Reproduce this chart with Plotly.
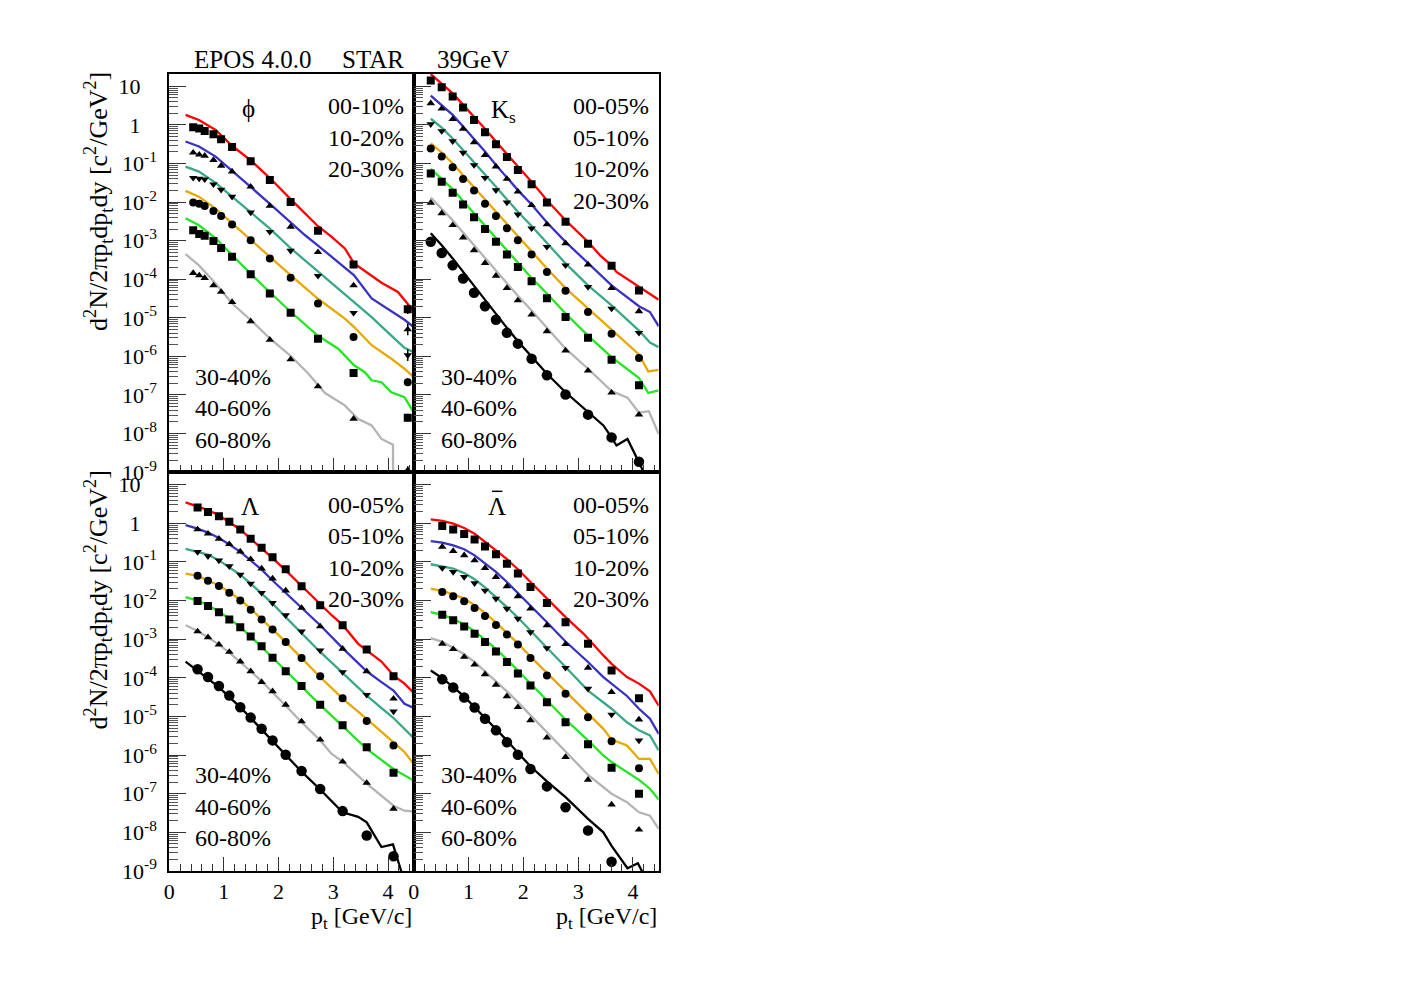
import numpy as np
import plotly.graph_objects as go

# page is 1404x992; the html body has an 8px margin, so the figure itself is 1388x976
PAGE_W, PAGE_H = 1404, 992
BODY = 8
W, H = PAGE_W - 2 * BODY, PAGE_H - 2 * BODY
# measured placement of the figure inside the photographed page
OFF_X, OFF_Y, SCALE_Y = 12.5, 8.75, 0.9855
FONT = "Liberation Serif"

# ------------------------------------------------------------------
# Data: log10 of d2N/(2 pi pt dpt dy), pt in GeV/c
# ------------------------------------------------------------------
CENT_PHI = ["00-10%", "10-20%", "20-30%", "30-40%", "40-60%", "60-80%"]
CENT = ["00-05%", "05-10%", "10-20%", "20-30%", "30-40%", "40-60%", "60-80%"]

# ---------- phi : STAR data ----------
phi_data_pt = [0.44, 0.55, 0.65, 0.81, 0.95, 1.15, 1.49, 1.84, 2.22, 2.72, 3.37, 4.36]
phi_data_00_10 = [-0.06, -0.09, -0.16, -0.24, -0.37, -0.57, -0.94, -1.43, -2.00, -2.74, -3.62, -4.78]
phi_data_10_20 = [-0.72, -0.77, -0.80, -0.91, -1.06, -1.21, -1.60, -2.10, -2.64, -3.30, -4.16, -5.30]
phi_data_20_30 = [-1.37, -1.39, -1.41, -1.54, -1.68, -1.86, -2.27, -2.77, -3.26, -3.91, -4.87, -5.97]
phi_data_30_40 = [-2.01, -2.04, -2.10, -2.23, -2.36, -2.58, -2.99, -3.46, -3.96, -4.63, -5.50, -6.67]
phi_data_40_60 = [-2.73, -2.83, -2.87, -3.01, -3.19, -3.42, -3.87, -4.37, -4.87, -5.54, -6.43, -7.59]
phi_data_60_80 = [-3.84, -3.90, -3.97, -4.16, -4.33, -4.59, -5.09, -5.57, -6.08, -6.78, -7.62, -8.95]
phi_data_err_last = [0.12, 0.15, 0.15, 0.10, 0.10, 0.10]   # log10 half-length of last-point error bar

# ---------- phi : EPOS ----------
phi_model_00_10_pt = [0.30, 0.545, 0.85, 1.15, 1.485, 1.836, 2.224, 2.485, 2.715, 2.97, 3.21, 3.38, 3.576, 3.88, 4.18, 4.333, 4.47]
phi_model_00_10 = [0.26, 0.13, -0.13, -0.54, -0.91, -1.37, -1.93, -2.29, -2.62, -2.90, -3.20, -3.59, -3.78, -4.09, -4.33, -4.59, -4.83]
phi_model_10_20_pt = [0.30, 0.545, 0.85, 1.15, 1.485, 1.836, 2.224, 2.485, 2.715, 2.97, 3.21, 3.38, 3.70, 4.06, 4.30, 4.47]
phi_model_10_20 = [-0.43, -0.56, -0.82, -1.20, -1.60, -2.04, -2.54, -2.86, -3.12, -3.42, -3.68, -3.90, -4.50, -4.83, -5.05, -5.24]
phi_model_20_30_pt = [0.30, 0.545, 0.85, 1.15, 1.485, 1.836, 2.224, 2.715, 2.97, 3.21, 3.38, 3.576, 3.70, 4.06, 4.30, 4.47]
phi_model_20_30 = [-1.08, -1.21, -1.50, -1.86, -2.25, -2.68, -3.20, -3.79, -4.11, -4.40, -4.61, -4.85, -4.98, -5.46, -5.78, -5.89]
phi_model_30_40_pt = [0.30, 0.545, 0.85, 1.15, 1.485, 1.836, 2.224, 2.715, 3.21, 3.38, 3.70, 4.06, 4.30, 4.47]
phi_model_30_40 = [-1.71, -1.86, -2.17, -2.55, -2.99, -3.42, -3.90, -4.50, -5.02, -5.24, -5.71, -6.06, -6.32, -6.54]
phi_model_40_60_pt = [0.30, 0.545, 0.85, 1.15, 1.485, 1.836, 2.224, 2.715, 3.09, 3.38, 3.576, 3.70, 3.88, 4.06, 4.30, 4.47]
phi_model_40_60 = [-2.42, -2.60, -2.94, -3.38, -3.85, -4.33, -4.85, -5.46, -5.80, -6.23, -6.41, -6.62, -6.67, -6.93, -7.06, -7.45]
phi_model_60_80_pt = [0.30, 0.545, 0.85, 1.15, 1.485, 1.836, 2.224, 2.545, 2.848, 3.21, 3.45, 3.70, 3.88, 4.06, 4.09, 4.10]
phi_model_60_80 = [-3.35, -3.64, -4.11, -4.63, -5.05, -5.53, -5.99, -6.45, -6.95, -7.27, -7.62, -7.79, -8.14, -8.27, -8.29, -12.0]

# ---------- K0s : STAR data ----------
ks_data_pt = [0.31, 0.51, 0.71, 0.90, 1.10, 1.30, 1.50, 1.70, 1.90, 2.15, 2.43, 2.77, 3.18, 3.61, 4.11]
ks_data_00_05 = [1.15, 0.98, 0.74, 0.45, 0.13, -0.19, -0.50, -0.83, -1.17, -1.54, -2.01, -2.51, -3.08, -3.65, -4.29]
ks_data_05_10 = [0.56, 0.42, 0.15, -0.10, -0.45, -0.78, -1.08, -1.40, -1.73, -2.08, -2.58, -3.07, -3.62, -4.23, -4.83]
ks_data_10_20 = [0.02, -0.16, -0.42, -0.72, -1.04, -1.37, -1.69, -2.01, -2.32, -2.68, -3.16, -3.64, -4.20, -4.76, -5.39]
ks_data_20_30 = [-0.61, -0.82, -1.10, -1.40, -1.70, -2.04, -2.36, -2.68, -2.99, -3.36, -3.81, -4.30, -4.85, -5.41, -6.04]
ks_data_30_40 = [-1.26, -1.47, -1.76, -2.06, -2.39, -2.70, -3.03, -3.36, -3.68, -4.05, -4.49, -4.98, -5.52, -6.09, -6.75]
ks_data_40_60 = [-2.02, -2.29, -2.60, -2.92, -3.25, -3.58, -3.91, -4.23, -4.55, -4.92, -5.35, -5.85, -6.37, -6.94, -7.51]
ks_data_60_80 = [-3.03, -3.32, -3.64, -3.98, -4.35, -4.70, -5.05, -5.39, -5.67, -6.06, -6.49, -6.99, -7.51, -8.10, -8.73]

# ---------- K0s : EPOS ----------
ks_model_00_05_pt = [0.31, 0.51, 0.71, 0.90, 1.10, 1.30, 1.50, 1.70, 1.90, 2.15, 2.43, 2.77, 3.18, 3.40, 3.61, 3.70, 4.11, 4.31, 4.47]
ks_model_00_05 = [1.32, 1.08, 0.82, 0.52, 0.22, -0.10, -0.43, -0.76, -1.08, -1.47, -1.95, -2.47, -3.03, -3.38, -3.64, -3.81, -4.20, -4.40, -4.53]
ks_model_05_10_pt = [0.31, 0.51, 0.71, 0.90, 1.10, 1.30, 1.50, 1.70, 1.90, 2.15, 2.43, 2.77, 3.18, 3.61, 4.11, 4.31, 4.47]
ks_model_05_10 = [0.76, 0.52, 0.26, -0.04, -0.36, -0.69, -1.04, -1.37, -1.69, -2.06, -2.53, -3.03, -3.59, -4.16, -4.70, -4.85, -5.22]
ks_model_10_20_pt = [0.31, 0.51, 0.71, 0.90, 1.10, 1.30, 1.50, 1.70, 1.90, 2.15, 2.43, 2.77, 3.18, 3.61, 4.11, 4.31, 4.47]
ks_model_10_20 = [0.16, -0.07, -0.35, -0.65, -0.95, -1.28, -1.60, -1.93, -2.25, -2.62, -3.07, -3.59, -4.16, -4.68, -5.33, -5.64, -5.76]
ks_model_20_30_pt = [0.31, 0.51, 0.71, 0.90, 1.10, 1.30, 1.50, 1.70, 1.90, 2.15, 2.43, 2.77, 3.18, 3.61, 4.11, 4.28, 4.47]
ks_model_20_30 = [-0.48, -0.72, -1.00, -1.30, -1.61, -1.93, -2.25, -2.58, -2.90, -3.27, -3.72, -4.23, -4.76, -5.33, -5.95, -6.39, -6.35]
ks_model_30_40_pt = [0.31, 0.51, 0.71, 0.90, 1.10, 1.30, 1.50, 1.70, 1.90, 2.15, 2.43, 2.77, 3.18, 3.61, 4.11, 4.28, 4.47]
ks_model_30_40 = [-1.14, -1.39, -1.66, -1.97, -2.29, -2.62, -2.94, -3.27, -3.59, -3.97, -4.37, -4.89, -5.46, -6.02, -6.56, -6.95, -6.88]
ks_model_40_60_pt = [0.31, 0.51, 0.71, 0.90, 1.10, 1.30, 1.50, 1.70, 1.90, 2.15, 2.43, 2.77, 3.18, 3.61, 3.90, 4.11, 4.29, 4.47]
ks_model_40_60 = [-1.88, -2.17, -2.47, -2.79, -3.12, -3.45, -3.79, -4.11, -4.43, -4.81, -5.26, -5.80, -6.32, -6.90, -7.07, -7.46, -7.42, -8.01]
ks_model_60_80_pt = [0.31, 0.51, 0.71, 0.90, 1.10, 1.30, 1.50, 1.70, 1.90, 2.15, 2.43, 2.77, 3.18, 3.46, 3.61, 3.70, 3.90, 4.20, 4.30]
ks_model_60_80 = [-2.81, -3.12, -3.46, -3.81, -4.18, -4.55, -4.92, -5.26, -5.61, -6.02, -6.45, -6.93, -7.45, -7.79, -8.10, -8.31, -8.14, -9.01, -9.30]

# ---------- Lambda : STAR data ----------
lam_data_pt = [0.52, 0.71, 0.91, 1.10, 1.30, 1.49, 1.69, 1.89, 2.13, 2.42, 2.76, 3.17, 3.61, 4.10]
lam_data_00_05 = [0.41, 0.29, 0.18, 0.04, -0.16, -0.40, -0.63, -0.88, -1.19, -1.63, -2.12, -2.64, -3.27, -3.96]
lam_data_05_10 = [-0.16, -0.27, -0.40, -0.54, -0.73, -0.93, -1.17, -1.43, -1.74, -2.19, -2.67, -3.25, -3.83, -4.54]
lam_data_10_20 = [-0.74, -0.85, -0.96, -1.11, -1.33, -1.56, -1.80, -2.06, -2.38, -2.80, -3.29, -3.85, -4.44, -4.87]
lam_data_20_30 = [-1.36, -1.49, -1.62, -1.80, -2.00, -2.24, -2.49, -2.75, -3.07, -3.49, -3.96, -4.53, -5.12, -5.75]
lam_data_30_40 = [-2.01, -2.14, -2.30, -2.49, -2.69, -2.93, -3.18, -3.48, -3.83, -4.21, -4.70, -5.23, -5.80, -6.46]
lam_data_40_60 = [-2.80, -2.95, -3.14, -3.33, -3.58, -3.83, -4.11, -4.35, -4.70, -5.13, -5.60, -6.17, -6.72, -7.39]
lam_data_60_80 = [-3.78, -3.98, -4.21, -4.46, -4.76, -5.03, -5.32, -5.62, -5.99, -6.41, -6.88, -7.45, -8.08, -8.62]

# ---------- Lambda : EPOS ----------
lam_model_00_05_pt = [0.30, 0.52, 0.71, 0.91, 1.10, 1.30, 1.49, 1.69, 1.89, 2.13, 2.42, 2.76, 2.97, 3.17, 3.455, 3.61, 3.88, 4.10, 4.30, 4.47]
lam_model_00_05 = [0.54, 0.44, 0.34, 0.21, 0.04, -0.16, -0.40, -0.64, -0.90, -1.22, -1.62, -2.11, -2.38, -2.63, -3.12, -3.29, -3.58, -3.94, -4.15, -4.39]
lam_model_05_10_pt = [0.30, 0.52, 0.71, 0.91, 1.10, 1.30, 1.49, 1.69, 1.89, 2.13, 2.42, 2.76, 3.17, 3.61, 3.88, 4.10, 4.30, 4.47]
lam_model_05_10 = [-0.05, -0.14, -0.24, -0.38, -0.55, -0.74, -0.96, -1.20, -1.48, -1.80, -2.19, -2.64, -3.23, -3.83, -4.11, -4.33, -4.67, -4.78]
lam_model_10_20_pt = [0.30, 0.52, 0.71, 0.91, 1.10, 1.30, 1.49, 1.69, 1.89, 2.13, 2.42, 2.76, 3.17, 3.61, 4.10, 4.47]
lam_model_10_20 = [-0.66, -0.73, -0.81, -0.96, -1.13, -1.33, -1.56, -1.82, -2.08, -2.43, -2.84, -3.33, -3.87, -4.46, -5.04, -5.56]
lam_model_20_30_pt = [0.30, 0.52, 0.71, 0.91, 1.10, 1.30, 1.49, 1.69, 1.89, 2.13, 2.42, 2.76, 3.17, 3.61, 4.10, 4.30, 4.47]
lam_model_20_30 = [-1.30, -1.36, -1.48, -1.61, -1.78, -1.98, -2.21, -2.47, -2.75, -3.07, -3.49, -3.98, -4.54, -5.06, -5.67, -5.92, -6.23]
lam_model_30_40_pt = [0.30, 0.52, 0.71, 0.91, 1.10, 1.30, 1.49, 1.69, 1.89, 2.13, 2.42, 2.76, 3.17, 3.61, 4.10, 4.47]
lam_model_30_40 = [-1.91, -2.00, -2.12, -2.28, -2.47, -2.69, -2.93, -3.20, -3.48, -3.81, -4.22, -4.70, -5.25, -5.84, -6.36, -6.66]
lam_model_40_60_pt = [0.30, 0.52, 0.71, 0.91, 1.10, 1.30, 1.49, 1.69, 1.89, 2.13, 2.42, 2.76, 2.97, 3.17, 3.61, 4.10, 4.30, 4.47]
lam_model_40_60 = [-2.64, -2.79, -2.95, -3.14, -3.35, -3.59, -3.83, -4.09, -4.37, -4.72, -5.15, -5.62, -5.97, -6.17, -6.74, -7.31, -7.44, -7.46]
lam_model_60_80_pt = [0.30, 0.52, 0.71, 0.91, 1.10, 1.30, 1.49, 1.69, 1.89, 2.13, 2.42, 2.76, 3.17, 3.455, 3.61, 3.88, 4.09, 4.24, 4.30]
lam_model_60_80 = [-3.58, -3.81, -4.02, -4.24, -4.50, -4.76, -5.04, -5.34, -5.65, -5.99, -6.43, -6.89, -7.48, -7.60, -7.74, -8.38, -8.31, -9.00, -9.30]

# ---------- anti-Lambda : STAR data ----------
alam_data_pt = [0.52, 0.72, 0.92, 1.11, 1.30, 1.50, 1.70, 1.90, 2.13, 2.43, 2.77, 3.18, 3.61, 4.11]
alam_data_00_05 = [-0.07, -0.16, -0.28, -0.42, -0.60, -0.80, -1.05, -1.30, -1.65, -2.06, -2.56, -3.12, -3.81, -4.53]
alam_data_05_10 = [-0.61, -0.72, -0.83, -0.96, -1.16, -1.39, -1.63, -1.89, -2.21, -2.64, -3.13, -3.74, -4.37, -5.08]
alam_data_10_20 = [-1.16, -1.26, -1.39, -1.55, -1.74, -1.95, -2.21, -2.47, -2.82, -3.23, -3.74, -4.28, -4.95, -5.62]
alam_data_20_30 = [-1.78, -1.89, -2.02, -2.19, -2.40, -2.63, -2.88, -3.14, -3.49, -3.94, -4.41, -5.02, -5.64, -6.34]
alam_data_30_40 = [-2.37, -2.51, -2.67, -2.86, -3.07, -3.32, -3.59, -3.89, -4.20, -4.63, -5.15, -5.72, -6.33, -7.00]
alam_data_40_60 = [-3.12, -3.26, -3.46, -3.66, -3.91, -4.18, -4.48, -4.76, -5.10, -5.55, -6.05, -6.64, -7.28, -7.93]
alam_data_60_80_pt = [0.52, 0.72, 0.92, 1.11, 1.30, 1.50, 1.70, 1.90, 2.13, 2.43, 2.77, 3.18, 3.61]
alam_data_60_80 = [-4.04, -4.25, -4.51, -4.77, -5.06, -5.36, -5.67, -5.99, -6.36, -6.81, -7.35, -7.95, -8.76]

# ---------- anti-Lambda : EPOS ----------
alam_model_00_05_pt = [0.31, 0.52, 0.72, 0.92, 1.11, 1.30, 1.50, 1.70, 1.90, 2.13, 2.43, 2.77, 3.10, 3.18, 3.46, 3.61, 3.89, 4.11, 4.31, 4.47]
alam_model_00_05 = [0.10, 0.06, -0.01, -0.12, -0.27, -0.47, -0.70, -0.93, -1.19, -1.52, -1.95, -2.43, -2.86, -2.99, -3.42, -3.64, -3.98, -4.15, -4.35, -4.72]
alam_model_05_10_pt = [0.31, 0.52, 0.72, 0.92, 1.11, 1.30, 1.50, 1.70, 1.90, 2.13, 2.43, 2.77, 3.18, 3.46, 3.61, 3.89, 4.11, 4.31, 4.47]
alam_model_05_10 = [-0.46, -0.50, -0.57, -0.67, -0.83, -1.03, -1.26, -1.52, -1.80, -2.12, -2.56, -3.06, -3.59, -3.98, -4.15, -4.47, -4.80, -5.06, -5.45]
alam_model_10_20_pt = [0.31, 0.52, 0.72, 0.92, 1.11, 1.30, 1.50, 1.70, 1.90, 2.13, 2.43, 2.77, 3.18, 3.61, 3.89, 4.11, 4.31, 4.47]
alam_model_10_20 = [-1.06, -1.11, -1.17, -1.29, -1.45, -1.66, -1.91, -2.17, -2.44, -2.79, -3.22, -3.72, -4.33, -4.80, -5.15, -5.36, -5.49, -5.88]
alam_model_20_30_pt = [0.31, 0.52, 0.72, 0.92, 1.11, 1.30, 1.50, 1.70, 1.90, 2.13, 2.43, 2.77, 3.18, 3.46, 3.61, 3.89, 4.11, 4.31, 4.47]
alam_model_20_30 = [-1.69, -1.75, -1.84, -1.95, -2.12, -2.32, -2.57, -2.83, -3.11, -3.45, -3.87, -4.37, -4.93, -5.32, -5.60, -5.75, -6.10, -6.10, -6.49]
alam_model_30_40_pt = [0.31, 0.52, 0.72, 0.92, 1.11, 1.30, 1.50, 1.70, 1.90, 2.13, 2.43, 2.77, 3.18, 3.46, 3.61, 3.89, 4.11, 4.31, 4.47]
alam_model_30_40 = [-2.30, -2.37, -2.47, -2.62, -2.79, -3.01, -3.25, -3.52, -3.81, -4.15, -4.59, -5.08, -5.62, -6.01, -6.18, -6.44, -6.64, -6.87, -7.15]
alam_model_40_60_pt = [0.31, 0.52, 0.72, 0.92, 1.11, 1.30, 1.50, 1.70, 1.90, 2.13, 2.43, 2.77, 3.18, 3.61, 3.89, 4.11, 4.31, 4.47]
alam_model_40_60 = [-2.97, -3.07, -3.22, -3.39, -3.59, -3.83, -4.09, -4.35, -4.63, -4.97, -5.42, -5.92, -6.51, -7.00, -7.22, -7.48, -7.57, -7.91]
alam_model_60_80_pt = [0.31, 0.52, 0.72, 0.92, 1.11, 1.30, 1.50, 1.70, 1.90, 2.13, 2.43, 2.77, 3.18, 3.46, 3.61, 3.75, 3.90, 4.09, 4.20]
alam_model_60_80 = [-3.81, -4.01, -4.24, -4.48, -4.76, -5.04, -5.32, -5.62, -5.94, -6.29, -6.68, -7.09, -7.65, -8.00, -8.35, -8.62, -8.93, -8.80, -9.10]

# ------------------------------------------------------------------
# Styles
# ------------------------------------------------------------------
LINE_COLORS = ["#ff0000", "#3a32c0", "#3aa888", "#e8a800", "#22e622", "#b4b4b4", "#000000"]
SYMBOLS = ["square", "triangle-up", "triangle-down", "circle", "square", "triangle-up", "circle"]
SIZES = [8, 7.5, 7.5, 8, 8, 7.5, 10.5]

panels = [
    dict(ax="", data=[(phi_data_pt, phi_data_00_10), (phi_data_pt, phi_data_10_20), (phi_data_pt, phi_data_20_30),
                      (phi_data_pt, phi_data_30_40), (phi_data_pt, phi_data_40_60), (phi_data_pt, phi_data_60_80)],
         model=[(phi_model_00_10_pt, phi_model_00_10), (phi_model_10_20_pt, phi_model_10_20),
                (phi_model_20_30_pt, phi_model_20_30), (phi_model_30_40_pt, phi_model_30_40),
                (phi_model_40_60_pt, phi_model_40_60), (phi_model_60_80_pt, phi_model_60_80)]),
    dict(ax="2", data=[(ks_data_pt, ks_data_00_05), (ks_data_pt, ks_data_05_10), (ks_data_pt, ks_data_10_20),
                       (ks_data_pt, ks_data_20_30), (ks_data_pt, ks_data_30_40), (ks_data_pt, ks_data_40_60),
                       (ks_data_pt, ks_data_60_80)],
         model=[(ks_model_00_05_pt, ks_model_00_05), (ks_model_05_10_pt, ks_model_05_10),
                (ks_model_10_20_pt, ks_model_10_20), (ks_model_20_30_pt, ks_model_20_30),
                (ks_model_30_40_pt, ks_model_30_40), (ks_model_40_60_pt, ks_model_40_60),
                (ks_model_60_80_pt, ks_model_60_80)]),
    dict(ax="3", data=[(lam_data_pt, lam_data_00_05), (lam_data_pt, lam_data_05_10), (lam_data_pt, lam_data_10_20),
                       (lam_data_pt, lam_data_20_30), (lam_data_pt, lam_data_30_40), (lam_data_pt, lam_data_40_60),
                       (lam_data_pt, lam_data_60_80)],
         model=[(lam_model_00_05_pt, lam_model_00_05), (lam_model_05_10_pt, lam_model_05_10),
                (lam_model_10_20_pt, lam_model_10_20), (lam_model_20_30_pt, lam_model_20_30),
                (lam_model_30_40_pt, lam_model_30_40), (lam_model_40_60_pt, lam_model_40_60),
                (lam_model_60_80_pt, lam_model_60_80)]),
    dict(ax="4", data=[(alam_data_pt, alam_data_00_05), (alam_data_pt, alam_data_05_10), (alam_data_pt, alam_data_10_20),
                       (alam_data_pt, alam_data_20_30), (alam_data_pt, alam_data_30_40), (alam_data_pt, alam_data_40_60),
                       (alam_data_60_80_pt, alam_data_60_80)],
         model=[(alam_model_00_05_pt, alam_model_00_05), (alam_model_05_10_pt, alam_model_05_10),
                (alam_model_10_20_pt, alam_model_10_20), (alam_model_20_30_pt, alam_model_20_30),
                (alam_model_30_40_pt, alam_model_30_40), (alam_model_40_60_pt, alam_model_40_60),
                (alam_model_60_80_pt, alam_model_60_80)]),
]

fig = go.Figure()

for p_i, p in enumerate(panels):
    xa, ya = "x" + p["ax"], "y" + p["ax"]
    for i, (pt, lg) in enumerate(p["model"]):
        fig.add_trace(go.Scatter(x=pt, y=10.0 ** np.array(lg), mode="lines", xaxis=xa, yaxis=ya,
                                 line=dict(color=LINE_COLORS[i], width=2.3), showlegend=False,
                                 hoverinfo="skip"))
    for i, (pt, lg) in enumerate(p["data"]):
        yv = 10.0 ** np.array(lg)
        err = None
        if p_i == 0:
            e = np.zeros(len(lg))
            e[-1] = phi_data_err_last[i]
            err = dict(type="data", symmetric=False, array=yv * (10 ** e - 1),
                       arrayminus=yv * (1 - 10 ** (-e)), color="black", thickness=1.5, width=0)
        size = SIZES[i] if (i < 6 or p_i > 0) else 8
        fig.add_trace(go.Scatter(x=pt, y=yv, mode="markers", xaxis=xa, yaxis=ya, error_y=err,
                                 marker=dict(symbol=SYMBOLS[i], size=size, color="black", line=dict(width=0)),
                                 showlegend=False))


# ------------------------------------------------------------------
# Axes  (positions given in photographed-page pixels, converted to paper units)
# ------------------------------------------------------------------
def px(x):
    return (x - OFF_X) / W


def py(y):
    return 1 - ((y - OFF_Y) / SCALE_Y) / H


XL = [px(168.3), px(414.0)]
XR = [px(414.0), px(660.0)]
YT = [py(472.3), py(74.5)]
YB = [py(870.7), py(472.3)]

DEC = list(range(-9, 2))
ytickvals = [10.0 ** e for e in DEC]
yticktext = []
for e in DEC:
    if e == 1:
        yticktext.append("10\u00a0\u00a0\u00a0")
    elif e == 0:
        yticktext.append("1\u00a0\u00a0\u00a0")
    else:
        yticktext.append("10<sup>%d</sup>" % e)
yminor = [m * 10.0 ** e for e in DEC for m in range(2, 10)]

tickfont = dict(family=FONT, size=22, color="black")


def xaxis(domain, anchor, labels):
    return dict(domain=domain, anchor=anchor, range=[0, 4.47], showgrid=False, zeroline=False,
                showline=True, mirror=True, linecolor="black", linewidth=1.6,
                ticks="inside", tickvals=[0, 1, 2, 3, 4], ticktext=["0", "1", "2", "3", "4"],
                ticklen=14, tickwidth=1, tickcolor="#333",
                minor=dict(tickvals=[0.2, 0.4, 0.6, 0.8, 1.2, 1.4, 1.6, 1.8, 2.2, 2.4, 2.6, 2.8,
                                     3.2, 3.4, 3.6, 3.8, 4.2, 4.4],
                           ticks="inside", ticklen=7, tickwidth=1, tickcolor="#333"),
                showticklabels=labels, tickfont=tickfont, ticklabelstandoff=0)


def yaxis(domain, anchor, labels):
    return dict(domain=domain, anchor=anchor, type="log", range=[-9, 1.325], showgrid=False,
                zeroline=False, showline=True, mirror=True, linecolor="black", linewidth=1.6,
                ticks="inside", tickvals=ytickvals, ticktext=yticktext, ticklen=17, tickwidth=1,
                tickcolor="#333",
                minor=dict(tickvals=yminor, ticks="inside", ticklen=9, tickwidth=1, tickcolor="#555"),
                showticklabels=labels, tickfont=tickfont, ticklabelstandoff=6)


fig.update_layout(
    width=W, height=H, margin=dict(l=0, r=0, t=0, b=0),
    paper_bgcolor="white", plot_bgcolor="white", showlegend=False,
    font=dict(family=FONT, size=24, color="black"),
    xaxis=xaxis(XL, "y", False), yaxis=yaxis(YT, "x", True),
    xaxis2=xaxis(XR, "y2", False), yaxis2=yaxis(YT, "x2", False),
    xaxis3=xaxis(XL, "y3", True), yaxis3=yaxis(YB, "x3", True),
    xaxis4=xaxis(XR, "y4", True), yaxis4=yaxis(YB, "x4", False),
)

# ------------------------------------------------------------------
# Text
# ------------------------------------------------------------------
ann = []


def txt(s, x, y, xanchor="center", yanchor="middle", size=24, angle=0):
    ann.append(dict(text=s, x=px(x), y=py(y), xref="paper", yref="paper", xanchor=xanchor,
                    yanchor=yanchor, showarrow=False, textangle=angle,
                    font=dict(family=FONT, size=size, color="black")))


txt("EPOS 4.0.0", 252, 60, size=25)
txt("STAR", 373, 60, size=25)
txt("39GeV", 473, 60, size=25)

txt("\u03d5", 248, 109, size=25)
txt("K<sub>s</sub>", 504, 112, size=25)
txt("\u039b", 250, 507, size=25)
txt("\u039b", 498, 507, size=25)

rows_top = [107, 138.5, 170, 201.5]
rows_low = [377, 408.5, 440]
# phi
for k, lab in enumerate(CENT_PHI[:3]):
    txt(lab, 406, rows_top[k], xanchor="right")
for k, lab in enumerate(CENT_PHI[3:]):
    txt(lab, 192, rows_low[k], xanchor="left")
# others
for (xr, xl, dy) in [(652, 439, 0), (406, 192, 398), (652, 439, 398)]:
    for k, lab in enumerate(CENT[:4]):
        txt(lab, xr, rows_top[k] + dy, xanchor="right")
    for k, lab in enumerate(CENT[4:]):
        txt(lab, xl, rows_low[k] + dy, xanchor="left")

ytitle = "d<sup>2</sup>N/2\u03c0p<sub>t</sub>dp<sub>t</sub>dy [c<sup>2</sup>/GeV<sup>2</sup>]"
txt(ytitle, 97, 71, yanchor="top", size=26, angle=-90)
txt(ytitle, 97, 469, yanchor="top", size=26, angle=-90)

xtitle = "p<sub>t</sub> [GeV/c]"
txt(xtitle, 414, 918, xanchor="right")
txt(xtitle, 660, 918, xanchor="right")

fig.update_layout(annotations=ann)

# bar over the anti-Lambda symbol
fig.add_shape(type="line", xref="paper", yref="paper", x0=px(492.5), x1=px(503), y0=py(491.5), y1=py(491.5),
              line=dict(color="black", width=1.5))

fig.write_html("out.html")
